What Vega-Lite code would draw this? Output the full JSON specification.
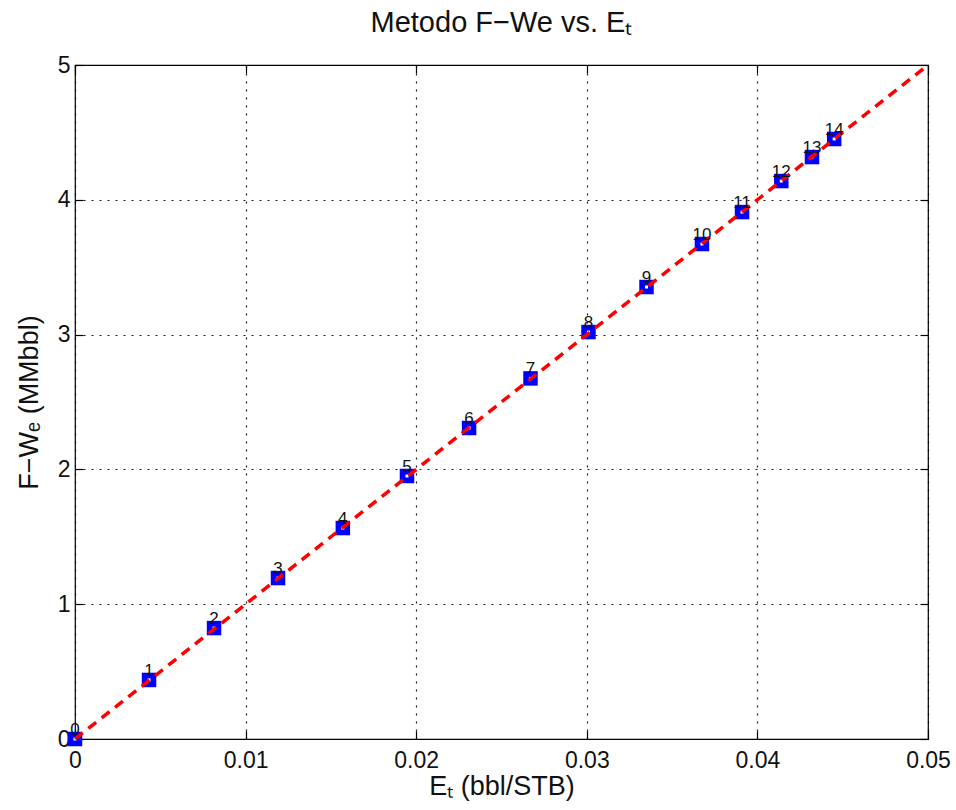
{
  "$schema": "https://vega.github.io/schema/vega-lite/v6.json",
  "width": 853,
  "height": 674,
  "autosize": {"type": "none"},
  "padding": {"left": 75, "top": 65, "right": 28, "bottom": 71},
  "background": "white",
  "config": {
    "font": "Liberation Sans",
    "view": {"stroke": "black", "strokeWidth": 1.2},
    "axis": {
      "labelFont": "Liberation Sans",
      "titleFont": "Liberation Sans",
      "labelFontSize": 23,
      "titleFontSize": 27,
      "labelColor": "#111",
      "titleColor": "#111",
      "titleFontWeight": "normal",
      "labelFlush": false,
      "domain": false,
      "tickColor": "black",
      "tickSize": -8,
      "tickWidth": 1.2,
      "gridColor": "black",
      "gridDash": [2, 6],
      "gridOpacity": 0.9,
      "gridWidth": 1.2
    },
    "title": {"font": "Liberation Sans", "fontSize": 29, "fontWeight": "normal", "color": "#111", "offset": 16}
  },
  "title": {"text": "Metodo F−We vs. Eₜ"},
  "datasets": {
    "pts": [
      {"et": 0.0, "fwe": 0.0, "lab": "0"},
      {"et": 0.00434, "fwe": 0.438, "lab": "1"},
      {"et": 0.00815, "fwe": 0.823, "lab": "2"},
      {"et": 0.0119, "fwe": 1.194, "lab": "3"},
      {"et": 0.0157, "fwe": 1.565, "lab": "4"},
      {"et": 0.01946, "fwe": 1.951, "lab": "5"},
      {"et": 0.0231, "fwe": 2.307, "lab": "6"},
      {"et": 0.0267, "fwe": 2.675, "lab": "7"},
      {"et": 0.0301, "fwe": 3.019, "lab": "8"},
      {"et": 0.0335, "fwe": 3.353, "lab": "9"},
      {"et": 0.03675, "fwe": 3.672, "lab": "10"},
      {"et": 0.0391, "fwe": 3.909, "lab": "11"},
      {"et": 0.0414, "fwe": 4.139, "lab": "12"},
      {"et": 0.0432, "fwe": 4.317, "lab": "13"},
      {"et": 0.0445, "fwe": 4.451, "lab": "14"}
    ],
    "fit": [
      {"et": 0.0, "fwe": 0.0},
      {"et": 0.05, "fwe": 5.0}
    ]
  },
  "resolve": {"axis": {"x": "independent", "y": "independent"}},
  "layer": [
    {
      "data": {"name": "pts"},
      "mark": {"type": "point", "shape": "square", "filled": true, "color": "#0000FF", "size": 210, "opacity": 1, "clip": false},
      "encoding": {
        "x": {"field": "et", "type": "quantitative", "scale": {"domain": [0, 0.05], "nice": false},
          "axis": {"title": "Eₜ (bbl/STB)", "values": [0, 0.01, 0.02, 0.03, 0.04, 0.05], "format": "~g", "grid": true, "labelPadding": 18, "titlePadding": 1}},
        "y": {"field": "fwe", "type": "quantitative", "scale": {"domain": [0, 5], "nice": false},
          "axis": {"title": "F−Wₑ (MMbbl)", "values": [0, 1, 2, 3, 4, 5], "format": "d", "grid": true, "labelPadding": 13, "titlePadding": 14}}
      }
    },
    {
      "data": {"name": "pts"},
      "mark": {"type": "point", "shape": "square", "filled": true, "color": "white", "size": 9, "opacity": 1, "clip": false},
      "encoding": {
        "x": {"field": "et", "type": "quantitative", "axis": {"orient": "top", "labels": false, "title": null, "grid": false, "values": [0, 0.01, 0.02, 0.03, 0.04, 0.05]}},
        "y": {"field": "fwe", "type": "quantitative", "axis": {"orient": "right", "labels": false, "title": null, "grid": false, "values": [0, 1, 2, 3, 4, 5]}}
      }
    },
    {
      "data": {"name": "fit"},
      "mark": {"type": "line", "color": "#FF0000", "strokeWidth": 3.5, "strokeDash": [10, 7], "clip": false},
      "encoding": {
        "x": {"field": "et", "type": "quantitative", "axis": null},
        "y": {"field": "fwe", "type": "quantitative", "axis": null}
      }
    },
    {
      "data": {"name": "pts"},
      "mark": {"type": "text", "fontSize": 17, "color": "#111", "baseline": "alphabetic", "align": "center", "dy": -4, "clip": false},
      "encoding": {
        "x": {"field": "et", "type": "quantitative", "axis": null},
        "y": {"field": "fwe", "type": "quantitative", "axis": null},
        "text": {"field": "lab", "type": "nominal"}
      }
    }
  ]
}
